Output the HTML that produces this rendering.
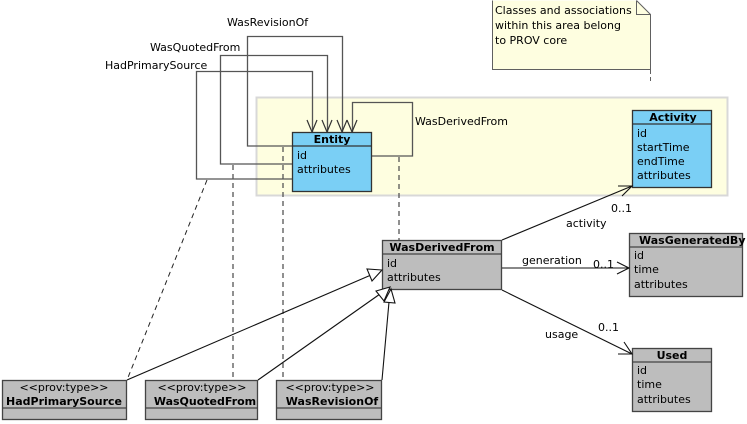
<!DOCTYPE html>
<html><head><style>body{margin:0;background:#fff}svg{display:block;font-family:"DejaVu Sans","Liberation Sans",sans-serif}</style></head><body>
<svg width="747" height="424" viewBox="0 0 747 424" xmlns="http://www.w3.org/2000/svg">
<rect x="256.5" y="97.5" width="471" height="98" fill="#fefee0" stroke="#d8d8d8" stroke-width="2"/>
<path d="M492.5 0.5V69.5H650.5V14.5L636.5 0.5" fill="#fefee0" stroke="#606060"/>
<path d="M636.5 0.5V14.5H650.5" fill="none" stroke="#606060"/>
<line x1="650.5" y1="70" x2="650.5" y2="84" stroke="#606060" stroke-dasharray="4,3"/>
<g font-size="11" fill="#000"><text x="495" y="14">Classes and associations</text><text x="495" y="29">within this area belong</text><text x="495" y="44">to PROV core</text></g>
<g fill="none" stroke="#555" stroke-width="1.3">
<path d="M292 146H247.5V36.5H342.5V132"/>
<path d="M292 164H220.5V55.5H327.5V132"/>
<path d="M292 179H196.5V71.5H312.5V132"/>
<path d="M372 156H412.5V102.5H352.5V132"/>
</g>
<g fill="none" stroke="#333" stroke-width="1.2">
<path d="M307 120L312 132L317 120M322 120L327 132L332 120M337 120L342 132L347 120M347 120L352 132L357 120"/>
</g>
<g font-size="11"><text x="227" y="26">WasRevisionOf</text><text x="150" y="51">WasQuotedFrom</text><text x="105" y="69">HadPrimarySource</text><text x="415" y="125">WasDerivedFrom</text></g>
<g stroke="#555" stroke-dasharray="5,4" stroke-width="1.3">
<line x1="207" y1="180" x2="127" y2="380" stroke="#222" stroke-width="1"/>
<line x1="233" y1="165" x2="233" y2="380"/>
<line x1="283" y1="147" x2="283" y2="380"/>
<line x1="399" y1="157" x2="399" y2="240"/>
</g>
<rect x="292.5" y="132.5" width="79" height="59" fill="#7acff5" stroke="#333" stroke-width="1.3"/>
<line x1="292" y1="146" x2="372" y2="146" stroke="#333" stroke-width="1.3"/>
<text x="332" y="143" font-size="11" font-weight="bold" text-anchor="middle">Entity</text>
<g font-size="11"><text x="297" y="159">id</text><text x="297" y="173">attributes</text></g>
<rect x="632.5" y="110.5" width="79" height="77" fill="#7acff5" stroke="#333" stroke-width="1.3"/>
<line x1="632" y1="124" x2="712" y2="124" stroke="#333" stroke-width="1.3"/>
<text x="673" y="121" font-size="11" font-weight="bold" text-anchor="middle">Activity</text>
<g font-size="11"><text x="637" y="137">id</text><text x="637" y="151">startTime</text><text x="637" y="165">endTime</text><text x="637" y="179">attributes</text></g>
<g fill="#bdbdbd" stroke="#444" stroke-width="1.3">
<rect x="382.5" y="240.5" width="119" height="49"/>
<rect x="629.5" y="233.5" width="113" height="63"/>
<rect x="632.5" y="348.5" width="79" height="63"/>
<rect x="2.5" y="380.5" width="124" height="39"/>
<rect x="145.5" y="380.5" width="112" height="39"/>
<rect x="276.5" y="380.5" width="105" height="39"/>
</g>
<g stroke="#444" stroke-width="1.3">
<line x1="382" y1="254" x2="502" y2="254"/><line x1="629" y1="247" x2="743" y2="247"/><line x1="632" y1="362" x2="712" y2="362"/>
<line x1="2" y1="408" x2="127" y2="408"/><line x1="145" y1="408" x2="258" y2="408"/><line x1="276" y1="408" x2="382" y2="408"/>
</g>
<g font-size="11">
<text x="442" y="251" font-weight="bold" text-anchor="middle">WasDerivedFrom</text><text x="387" y="267">id</text><text x="387" y="281">attributes</text>
<text x="639" y="244" font-weight="bold">WasGeneratedBy</text><text x="634" y="259">id</text><text x="634" y="273">time</text><text x="634" y="288">attributes</text>
<text x="672" y="359" font-weight="bold" text-anchor="middle">Used</text><text x="637" y="374">id</text><text x="637" y="388">time</text><text x="637" y="403">attributes</text>
<text x="64" y="391" text-anchor="middle">&lt;&lt;prov:type&gt;&gt;</text><text x="64" y="405" font-weight="bold" text-anchor="middle">HadPrimarySource</text>
<text x="202" y="391" text-anchor="middle">&lt;&lt;prov:type&gt;&gt;</text><text x="205" y="405" font-weight="bold" text-anchor="middle">WasQuotedFrom</text>
<text x="330" y="391" text-anchor="middle">&lt;&lt;prov:type&gt;&gt;</text><text x="332" y="405" font-weight="bold" text-anchor="middle">WasRevisionOf</text>
<text x="566" y="227">activity</text><text x="611" y="212">0..1</text>
<text x="522" y="264">generation</text><text x="593" y="268">0..1</text>
<text x="545" y="338">usage</text><text x="598" y="331">0..1</text>
</g>
<g stroke="#111" fill="none" stroke-width="1.1">
<line x1="502" y1="240" x2="632" y2="186"/><path d="M618 186L632 186L622 196"/>
<line x1="502" y1="268" x2="629" y2="268"/><path d="M617 262L629 268L617 274"/>
<line x1="502" y1="290" x2="632" y2="354"/><path d="M624 342L632 354L618 354"/>
<line x1="127" y1="380" x2="371" y2="275"/><line x1="258" y1="380" x2="380" y2="294"/><line x1="382" y1="380" x2="389" y2="302"/>
</g>
<g fill="#fff" stroke="#111" stroke-width="1.1">
<path d="M382 270L367 269L372 281Z"/>
<path d="M390 287L376 291L384 301Z"/>
<path d="M391 289L384 302L395 303Z"/>
</g>
</svg>
</body></html>
